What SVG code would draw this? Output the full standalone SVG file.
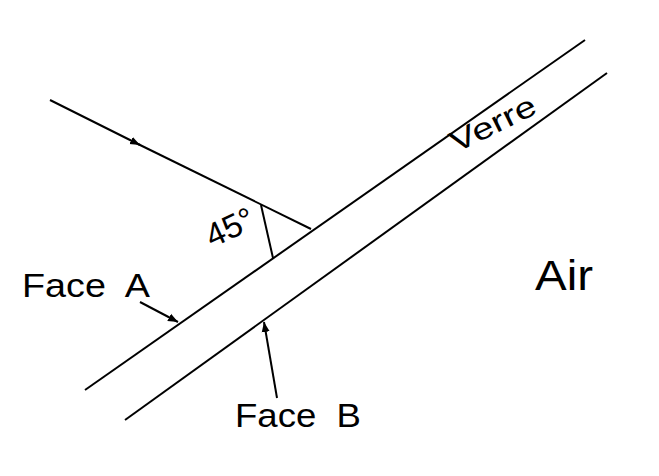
<svg xmlns="http://www.w3.org/2000/svg" width="659" height="476" viewBox="0 0 659 476">
<style>
.l{stroke:#000;stroke-width:2;fill:none}
.t{font-family:"Liberation Sans",Arial,sans-serif;fill:#000}
</style>
<defs><marker id="a" viewBox="0 0 10 10" refX="10" refY="5" markerWidth="10" markerHeight="10" markerUnits="userSpaceOnUse" orient="auto"><path d="M0,1 L10,5 L0,9 z"/></marker></defs>
<rect width="659" height="476" fill="#fff"/>
<g id="glass">
<line class="l" x1="85" y1="390" x2="585" y2="40"/>
<line class="l" x1="125" y1="420" x2="607" y2="73"/>
</g>
<g id="connectors">
<line class="l" x1="50" y1="100" x2="140" y2="145" marker-end="url(#a)"/>
<line class="l" x1="138" y1="144" x2="311" y2="229"/>
<line class="l" x1="261" y1="205" x2="273" y2="258"/>
<line class="l" x1="140" y1="302" x2="178" y2="322" marker-end="url(#a)"/>
<line class="l" x1="277" y1="398" x2="264" y2="322" marker-end="url(#a)"/>
</g>
<g id="labels">
<text class="t" font-size="33" transform="translate(212,248) rotate(-25)" textLength="50" lengthAdjust="spacingAndGlyphs">45°</text>
<text class="t" font-size="30" transform="translate(456,153) rotate(-26)" textLength="92" lengthAdjust="spacingAndGlyphs">Verre</text>
<text class="t" font-size="42" x="535" y="290" textLength="58" lengthAdjust="spacingAndGlyphs">Air</text>
<text class="t" font-size="33" x="22" y="297" xml:space="preserve" textLength="128" lengthAdjust="spacingAndGlyphs">Face  A</text>
<text class="t" font-size="33" x="235" y="427" xml:space="preserve" textLength="126" lengthAdjust="spacingAndGlyphs">Face  B</text>
</g>
</svg>
